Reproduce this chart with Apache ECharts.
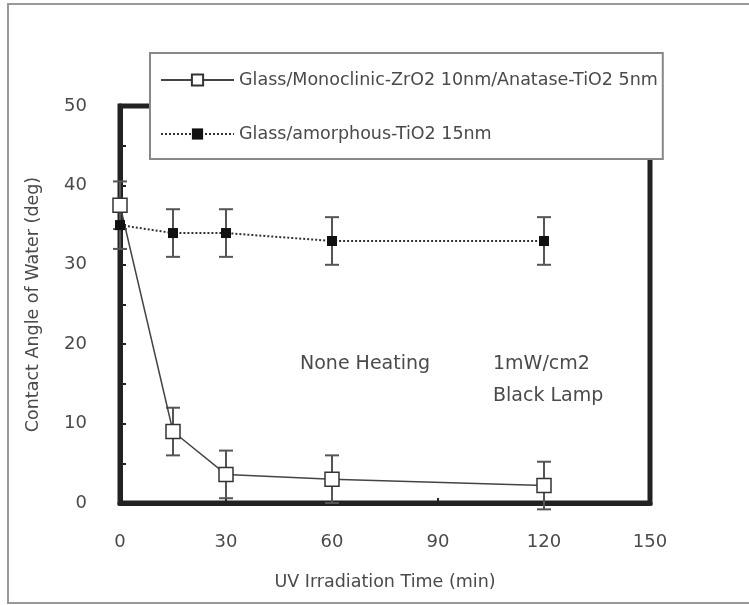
<!DOCTYPE html>
<html lang="en">
<head>
    <meta charset="UTF-8">
    <title>Contact Angle</title>
    <script src="https://cdn.jsdelivr.net/npm/echarts@6/dist/echarts.min.js"></script>
    <style>
        html, body { margin: 0; padding: 0; background: #fff; }
        #main { width: 749px; height: 605px; }
    </style>
</head>
<body>
<div id="main"></div>
<script type="text/javascript">
    // data
    var times = [0, 15, 30, 60, 120];
    var zrTiValues = [37.5, 9, 3.6, 3, 2.2];
    var zrTiErrors = [3, 3, 3, 3, 3];
    var amorphValues = [35, 34, 34, 33, 33];
    var amorphErrors = [3, 3, 3, 3, 3];
    var xTicks = [0, 30, 60, 90, 120, 150];
    var yTicks = [0, 10, 20, 30, 40, 50];
    var seriesNames = ['Glass/Monoclinic-ZrO2 10nm/Anatase-TiO2 5nm', 'Glass/amorphous-TiO2 15nm'];

    var font = 'DejaVu Sans';
    var textColor = '#4a4a4a';

    function pairs(xs, ys) {
        return xs.map(function (x, i) { return [x, ys[i]]; });
    }
    function errData(xs, ys, es) {
        return xs.map(function (x, i) { return [x, ys[i] - es[i], ys[i] + es[i]]; });
    }
    // vertical error bar with caps
    function renderErr(params, api) {
        var lo = api.coord([api.value(0), api.value(1)]);
        var hi = api.coord([api.value(0), api.value(2)]);
        var w = 7;
        var st = { stroke: '#555', lineWidth: 2 };
        return {
            type: 'group',
            children: [
                { type: 'line', shape: { x1: lo[0], y1: lo[1], x2: hi[0], y2: hi[1] }, style: st },
                { type: 'line', shape: { x1: lo[0] - w, y1: lo[1], x2: lo[0] + w, y2: lo[1] }, style: st },
                { type: 'line', shape: { x1: hi[0] - w, y1: hi[1], x2: hi[0] + w, y2: hi[1] }, style: st }
            ]
        };
    }

    var myChart = echarts.init(document.getElementById('main'));
    var option = {
        animation: false,
        backgroundColor: '#fff',
        grid: {
            left: 120, right: 99, top: 106, bottom: 102,
            show: true, borderColor: '#222', borderWidth: 5, backgroundColor: 'transparent'
        },
        legend: {
            data: seriesNames,
            orient: 'vertical',
            left: 150, top: 53,
            padding: [18, 5, 16, 10],
            itemWidth: 73, itemHeight: 14, itemGap: 36,
            backgroundColor: '#fff',
            borderColor: '#888', borderWidth: 2, borderRadius: 0,
            textStyle: { fontFamily: font, fontSize: 17.5, color: textColor },
            z: 10
        },
        xAxis: {
            type: 'value',
            min: xTicks[0], max: xTicks[xTicks.length - 1], interval: 30,
            name: 'UV Irradiation Time (min)',
            nameLocation: 'middle', nameGap: 70,
            nameTextStyle: { fontFamily: font, fontSize: 17.5, color: textColor },
            axisLine: { show: true, lineStyle: { color: '#222', width: 5 } },
            axisTick: { show: true, inside: true, length: 5, lineStyle: { color: '#222', width: 2 } },
            axisLabel: { fontFamily: font, fontSize: 18, color: textColor, margin: 30 },
            splitLine: { show: false }
        },
        yAxis: {
            type: 'value',
            min: yTicks[0], max: yTicks[yTicks.length - 1], interval: 10,
            name: 'Contact Angle of Water (deg)',
            nameLocation: 'middle', nameGap: 78,
            nameTextStyle: { fontFamily: font, fontSize: 17.5, color: textColor },
            axisLine: { show: true, lineStyle: { color: '#222', width: 5 } },
            axisTick: { show: true, inside: true, length: 6, lineStyle: { color: '#222', width: 2 } },
            minorTick: { show: true, splitNumber: 2, length: 6, lineStyle: { color: '#222', width: 2 } },
            axisLabel: { fontFamily: font, fontSize: 18, color: textColor, margin: 33 },
            splitLine: { show: false }
        },
        graphic: [
            { type: 'rect', shape: { x: 8, y: 4, width: 760, height: 599 }, style: { fill: 'none', stroke: '#999', lineWidth: 2 }, z: -1 },
            { type: 'text', left: 300, top: 355, style: { text: 'None Heating', font: '19px "DejaVu Sans"', fill: textColor } },
            { type: 'text', left: 493, top: 355, style: { text: '1mW/cm2', font: '19px "DejaVu Sans"', fill: textColor } },
            { type: 'text', left: 493, top: 387, style: { text: 'Black Lamp', font: '19px "DejaVu Sans"', fill: textColor } }
        ],
        series: [
            {
                type: 'custom', name: 'errZrTi', renderItem: renderErr,
                data: errData(times, zrTiValues, zrTiErrors), z: 2, silent: true
            },
            {
                type: 'custom', name: 'errAmorph', renderItem: renderErr,
                data: errData(times, amorphValues, amorphErrors), z: 2, silent: true
            },
            {
                name: seriesNames[0], type: 'line',
                data: pairs(times, zrTiValues),
                symbol: 'rect', symbolSize: 14,
                lineStyle: { color: '#444', width: 1.5, type: 'solid' },
                itemStyle: { color: '#fff', borderColor: '#333', borderWidth: 1.5 },
                z: 4
            },
            {
                name: seriesNames[1], type: 'line',
                data: pairs(times, amorphValues),
                symbol: 'rect', symbolSize: 10,
                lineStyle: { color: '#333', width: 2, type: 'dotted' },
                itemStyle: { color: '#111', borderColor: '#111', borderWidth: 0 },
                z: 4
            }
        ]
    };
    myChart.setOption(option);
</script>
</body>
</html>
